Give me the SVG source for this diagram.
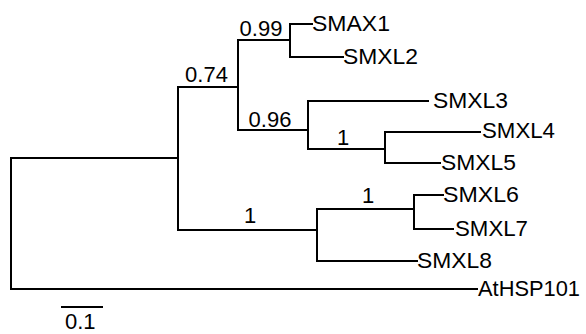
<svg xmlns="http://www.w3.org/2000/svg" width="586" height="334" viewBox="0 0 586 334">
<style>
.br{fill:none;stroke:#000;stroke-width:2;stroke-linecap:square;stroke-linejoin:miter}
text{font-family:"Liberation Sans",Arial,sans-serif;font-size:22px;fill:#000}
.s{text-anchor:middle}
</style>
<rect width="586" height="334" fill="#fff"/>
<g id="connectors">
<path class="br" d="M178,158 H11 V289 H477"/>
<path class="br" d="M238,87 H178 V230 H317"/>
<path class="br" d="M289,40 H238 V130 H308"/>
<path class="br" d="M312,24 H290 V57 H343"/>
<path class="br" d="M428,101 H308 V149 H385"/>
<path class="br" d="M480,132 H385 V163 H440"/>
<path class="br" d="M414,209 H317 V261 H417"/>
<path class="br" d="M443,195 H414 V229 H453"/>
<path class="br" d="M62,307 H102"/>
</g>
<g id="support">
<text class="s" x="206.5" y="82">0.74</text>
<text class="s" x="261" y="36">0.99</text>
<text class="s" x="270" y="127">0.96</text>
<text class="s" x="343" y="145">1</text>
<text class="s" x="250" y="223">1</text>
<text class="s" x="368" y="203">1</text>
</g>
<g id="SMAX1"><text x="312" y="30.5" textLength="78" lengthAdjust="spacingAndGlyphs">SMAX1</text></g>
<g id="SMXL2"><text x="343" y="64" textLength="75" lengthAdjust="spacingAndGlyphs">SMXL2</text></g>
<g id="SMXL3"><text x="433" y="107.5" textLength="75" lengthAdjust="spacingAndGlyphs">SMXL3</text></g>
<g id="SMXL4"><text x="482" y="138" textLength="73" lengthAdjust="spacingAndGlyphs">SMXL4</text></g>
<g id="SMXL5"><text x="441" y="169.5" textLength="75" lengthAdjust="spacingAndGlyphs">SMXL5</text></g>
<g id="SMXL6"><text x="443" y="201.5" textLength="76" lengthAdjust="spacingAndGlyphs">SMXL6</text></g>
<g id="SMXL7"><text x="455" y="235.5" textLength="73" lengthAdjust="spacingAndGlyphs">SMXL7</text></g>
<g id="SMXL8"><text x="417" y="267.5" textLength="75" lengthAdjust="spacingAndGlyphs">SMXL8</text></g>
<g id="AtHSP101"><text x="478" y="295.5" textLength="102" lengthAdjust="spacingAndGlyphs">AtHSP101</text></g>
<g id="scale"><text x="65" y="329">0.1</text></g>
</svg>
